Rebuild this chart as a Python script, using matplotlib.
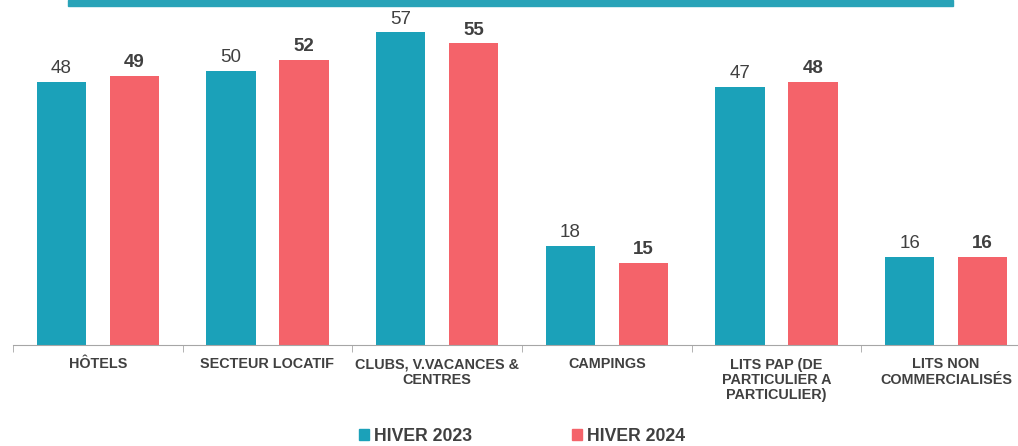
import numpy as np
import matplotlib.pyplot as plt
from matplotlib.patches import Rectangle, Patch

plt.rcParams['font.family'] = ['Liberation Sans', 'DejaVu Sans']

categories = ['HÔTELS', 'SECTEUR LOCATIF', 'CLUBS, V.VACANCES &\nCENTRES', 'CAMPINGS',
              'LITS PAP (DE\nPARTICULIER A\nPARTICULIER)', 'LITS NON\nCOMMERCIALISÉS']
hiver_2023 = [48, 50, 57, 18, 47, 16]
hiver_2024 = [49, 52, 55, 15, 48, 16]

teal = '#1ba1b9'
red = '#f4636a'
txt = '#404040'

fig = plt.figure(figsize=(10.18, 4.46), dpi=100)
# axes run a bit past the right edge, as in the original
ax = fig.add_axes([13 / 1018, 101 / 446, 1018 / 1018, 329 / 446])

x = np.arange(len(categories))
w = 0.29
off = 0.215
b1 = ax.bar(x - off, hiver_2023, w, color=teal, label='HIVER 2023')
b2 = ax.bar(x + off, hiver_2024, w, color=red, label='HIVER 2024')

for rect, v in zip(b1, hiver_2023):
    ax.annotate(str(v), (rect.get_x() + rect.get_width() / 2, v), xytext=(0, 3.5),
                textcoords='offset points', ha='center', va='bottom', fontsize=13.5, color=txt)
for rect, v in zip(b2, hiver_2024):
    ax.annotate(str(v), (rect.get_x() + rect.get_width() / 2, v), xytext=(0, 3.5),
                textcoords='offset points', ha='center', va='bottom', fontsize=13.5,
                fontweight='bold', color=txt)

ax.set_xlim(-0.5, len(categories) - 0.5)
ax.set_ylim(0, 60)

for s in ['top', 'right', 'left']:
    ax.spines[s].set_visible(False)
ax.spines['bottom'].set_color('#a6a6a6')
ax.set_yticks([])

ax.set_xticks(x)
ax.set_xticklabels(categories, fontsize=10.4, fontweight='bold', color=txt, linespacing=1.1)
ax.tick_params(axis='x', which='major', length=0, pad=9)
ax.set_xticks(np.arange(len(categories) + 1) - 0.5, minor=True)
ax.tick_params(axis='x', which='minor', length=5, color='#a6a6a6', direction='out')

# teal band at the top
fig.patches.append(Rectangle((68 / 1018, 440 / 446), 885 / 1018, 6 / 446,
                             transform=fig.transFigure, color='#29a3b8', zorder=0))

handles = [Patch(color=teal, label='HIVER 2023'), Patch(color=red, label='HIVER 2024')]
fig.legend(handles=handles, loc='center', bbox_to_anchor=(0.513, 0.022), ncol=2,
           frameon=False, borderpad=0, handlelength=0.55, handleheight=0.55, handletextpad=0.3,
           columnspacing=5.7, prop={'size': 12.7, 'weight': 'bold'}, labelcolor=txt)

fig.savefig('out.png', dpi=100)
